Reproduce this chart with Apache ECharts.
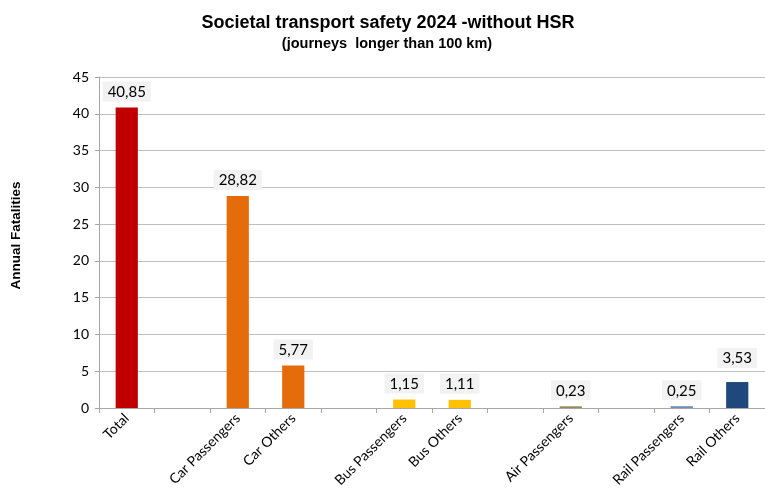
<!DOCTYPE html>
<html><head><meta charset="utf-8">
<script src="https://cdn.jsdelivr.net/npm/echarts@6/dist/echarts.min.js"></script>
<style>html,body{margin:0;padding:0;background:#fff}#c{width:765px;height:493px}</style>
</head><body><div id="c"></div>
<script>
const categories = ['Total', '', 'Car Passengers', 'Car Others', '', 'Bus Passengers', 'Bus Others', '', 'Air Passengers', '', 'Rail Passengers', 'Rail Others'];
const values = [40.85, null, 28.82, 5.77, null, 1.15, 1.11, null, 0.23, null, 0.25, 3.53];
const colors = ['#C00000', null, '#E46C0A', '#E46C0A', null, '#FFC000', '#FFC000', null, '#948A54', null, '#6F8FB8', '#1F497D'];
const yTicks = [0, 5, 10, 15, 20, 25, 30, 35, 40, 45];

const chart = echarts.init(document.getElementById('c'));
chart.setOption({
  animation: false,
  title: [
    {text: 'Societal transport safety 2024 -without HSR', left: 383, textAlign: 'center', top: 9,
     textStyle: {fontFamily: 'Liberation Sans, Arial', fontWeight: 'bold', fontSize: 18, color: '#000'}},
    {text: '(journeys  longer than 100 km)', left: 382, textAlign: 'center', top: 31,
     textStyle: {fontFamily: 'Liberation Sans, Arial', fontWeight: 'bold', fontSize: 14.5, color: '#000'}}
  ],
  grid: {left: 99, right: -8, top: 77, bottom: 85},
  xAxis: {
    type: 'category', data: categories,
    axisLine: {lineStyle: {color: '#A6A6A6'}},
    axisTick: {show: true, length: 5, lineStyle: {color: '#A6A6A6'}, interval: 0},
    axisLabel: {rotate: 45, interval: 0, fontSize: 14, color: '#000', fontFamily: 'Lato, Open Sans, sans-serif', margin: 8}
  },
  yAxis: {
    type: 'value', min: yTicks[0], max: yTicks[yTicks.length - 1], interval: 5,
    name: 'Annual Fatalities', nameLocation: 'middle', nameGap: 76, nameRotate: 90,
    nameTextStyle: {fontWeight: 'bold', fontSize: 13.5, color: '#000', fontFamily: 'Liberation Sans, Arial', padding: [0, 0, 0, 14]},
    axisLine: {show: true, lineStyle: {color: '#A6A6A6'}},
    axisTick: {show: true, length: 4, lineStyle: {color: '#A6A6A6'}},
    axisLabel: {fontSize: 14, color: '#000', fontFamily: 'Lato, Open Sans, sans-serif', margin: 10},
    splitLine: {lineStyle: {color: '#BFBFBF'}}
  },
  series: [{
    type: 'bar', barWidth: '40%',
    data: values.map((v, i) => v == null ? null : {value: v, itemStyle: {color: colors[i]},
      label: i === 11 ? {distance: 14} : undefined}),
    label: {
      show: true, position: 'top', distance: 6,
      formatter: p => p.value.toFixed(2).replace('.', ','),
      fontSize: 15, color: '#000', fontFamily: 'Lato, Open Sans, sans-serif',
      backgroundColor: '#F2F2F2', padding: [3, 5, 2, 5]
    }
  }]
});
</script></body></html>
